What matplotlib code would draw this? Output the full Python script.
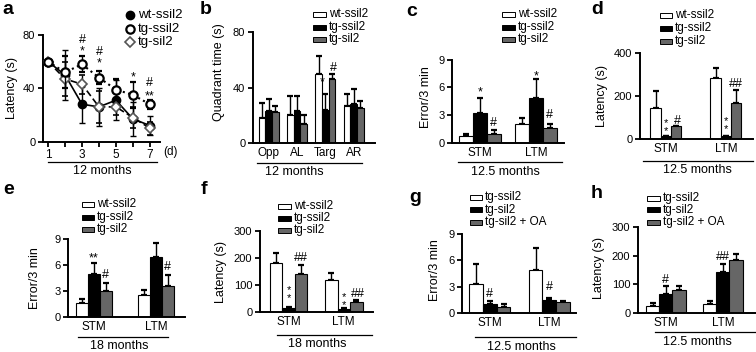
import matplotlib
matplotlib.use('Agg')
import matplotlib.pyplot as plt
import numpy as np
from matplotlib.patches import Rectangle
from matplotlib.lines import Line2D

plt.rcParams['font.family'] = ['Liberation Sans', 'DejaVu Sans']

W, H = 756, 352
GRAY = '#666666'

# ---- panel a: latency over days (12 months)
days = [1, 2, 3, 4, 5, 6, 7]
wt_lat = [60, 50, 28, 26, 31, 17, 12]
wt_err = [1, 19, 14, 14, 15, 13, 7]
tgs_lat = [60, 52, 58, 48, 39, 35, 28]
tgs_err = [1, 12, 6, 5, 8, 10, 3.5]
tgsil_lat = [60, 47, 43, 26, 26, 18, 10]
tgsil_err = [1, 13, 7, 12, 6, 8, 5]

# ---- panel b: quadrant time
quadrants = ['Opp', 'AL', 'Targ', 'AR']
b_wt = [18, 20, 50, 27]
b_wt_err = [11, 14, 13, 8]
b_tgs = [23, 23, 24, 28]
b_tgs_err = [9, 11, 11, 11]
b_tgsil = [22, 14, 46, 25]
b_tgsil_err = [5, 6, 4, 5]

tests = ['STM', 'LTM']
# ---- panel c: errors, 12.5 months
c_wt = [0.72, 2.0]
c_wt_err = [0.28, 0.7]
c_tgs = [3.2, 4.9]
c_tgs_err = [1.7, 2.0]
c_tgsil = [1.0, 1.6]
c_tgsil_err = [0.35, 0.5]

# ---- panel d: latency, 12.5 months
d_wt = [145, 284]
d_wt_err = [78, 46]
d_tgs = [15, 15]
d_tgs_err = [0, 0]
d_tgsil = [62, 167]
d_tgsil_err = [0, 61]

# ---- panel e: errors, 18 months
e_wt = [1.65, 2.5]
e_wt_err = [0.45, 0.6]
e_tgs = [5.0, 6.9]
e_tgs_err = [1.2, 1.6]
e_tgsil = [3.0, 3.6]
e_tgsil_err = [0.9, 1.2]

# ---- panel f: latency, 18 months
f_wt = [180, 118]
f_wt_err = [40, 27]
f_tgs = [15, 11]
f_tgs_err = [5, 4]
f_tgsil = [140, 36]
f_tgsil_err = [35, 9]

# ---- panel g: errors with OA, 12.5 months
g_tgs = [3.35, 4.95]
g_tgs_err = [2.25, 2.45]
g_tgsil = [1.06, 1.44]
g_tgsil_err = [0.27, 0.27]
g_oa = [0.7, 1.22]
g_oa_err = [0.36, 0.15]

# ---- panel h: latency with OA, 12.5 months
h_tgs = [23, 33]
h_tgs_err = [12, 10]
h_tgsil = [67, 142]
h_tgsil_err = [26, 30]
h_oa = [79, 186]
h_oa_err = [16, 21]

legend_wt = ['wt-ssil2', 'tg-ssil2', 'tg-sil2']
legend_oa = ['tg-ssil2', 'tg-sil2', 'tg-sil2 + OA']

fig = plt.figure(figsize=(W / 100, H / 100), dpi=100)


def fx(x):
    return x / W


def fy(y):
    return 1 - y / H


def add_ax(l, t, r, b):
    ax = fig.add_axes([fx(l), fy(b), (r - l) / W, (b - t) / H])
    for s in ['top', 'right']:
        ax.spines[s].set_visible(False)
    for s in ['left', 'bottom']:
        ax.spines[s].set_linewidth(1.4)
    ax.tick_params(direction='out', length=3.5, width=1.3, labelsize=8, pad=2)
    return ax


def ftext(x, y, s, **kw):
    fig.text(fx(x), fy(y), s, **kw)


def group_label(x0, x1, y, tx, ty, s):
    fig.add_artist(Line2D([fx(x0), fx(x1)], [fy(y), fy(y)], color='k', lw=0.9,
                          transform=fig.transFigure))
    ftext(tx, ty, s, ha='center', va='center', fontsize=9)


def mark(ax, x, y, s, fs=9):
    # place glyph so that its visual centre sits at (x, y)
    off = 0.58 * fs if s.startswith('*') else 0.36 * fs
    ax.annotate(s, (x, y), xytext=(0, -off), textcoords='offset points',
                ha='center', va='baseline', fontsize=fs)


def stack_stars(ax, x, y, fs=8):
    # two asterisks one above the other, y = centre of the pair
    ax.annotate('*\n*', (x, y), xytext=(0, -0.3 * fs), textcoords='offset points',
                ha='center', va='center', fontsize=fs, linespacing=0.75)


def bar_legend(x, rows, labels, colors, pw=12, ph=5):
    for y, lab, col in zip(rows, labels, colors):
        fig.add_artist(Rectangle((fx(x), fy(y + ph / 2)), pw / W, ph / H,
                                 facecolor=col, edgecolor='k', lw=0.7,
                                 transform=fig.transFigure))
        ftext(x + pw + 3, y, lab, ha='left', va='center', fontsize=8.5)


def bar_panel(box, xlim, ylim, yticks, w, series, errs, cats):
    ax = add_ax(*box)
    x = np.arange(len(cats))
    cols = ['white', 'black', GRAY]
    for i, (vals, err, col) in enumerate(zip(series, errs, cols)):
        xs = x + (i - 1) * w
        ax.bar(xs, vals, width=w, color=col, edgecolor='k', lw=0.8, zorder=2)
        ax.errorbar(xs, vals, yerr=[np.zeros(len(err)), err], fmt='none',
                    ecolor='k', elinewidth=1.0, capsize=2, capthick=1.6, zorder=1)
    ax.set_xlim(*xlim)
    ax.set_ylim(*ylim)
    ax.set_yticks(yticks)
    ax.set_xticks(x)
    ax.set_xticklabels(cats, fontsize=8.5)
    ax.tick_params(axis='x', length=0, pad=3)
    return ax


# ================= panel a
axa = add_ax(43, 35, 160, 141.5)
axa.errorbar(days, wt_lat, yerr=wt_err, fmt='-o', color='k', mfc='k', ms=6,
             lw=1.2, elinewidth=1.0, capsize=2.5, zorder=3)
axa.errorbar(days, tgsil_lat, yerr=tgsil_err, fmt='--D', color='k', mfc='white',
             mec='#555555', ms=5, mew=1.2, lw=1.2, dashes=(4, 2), elinewidth=1.0,
             capsize=2.5, zorder=4)
axa.errorbar(days, tgs_lat, yerr=tgs_err, fmt=':o', color='k', mfc='white', ms=6,
             mew=1.6, lw=1.5, elinewidth=1.0, capsize=2.5, zorder=5)
axa.set_xlim(0.7, 7.6)
axa.set_ylim(0, 80)
axa.set_yticks([0, 40, 80])
axa.set_xticks(days)
axa.set_xticklabels(['1', '', '3', '', '5', '', '7'], fontsize=8.5)
for d, y, s in [(3, 71, '*'), (3, 77, '#'), (4, 62, '*'), (4, 68, '#'),
                (6, 51, '*'), (7, 37, '**'), (7, 45, '#')]:
    mark(axa, d, y, s)
ftext(171, 152, '(d)', ha='center', va='center', fontsize=8.5)
ftext(12, 88, 'Latency (s)', rotation=90, ha='center', va='center', fontsize=9)
group_label(48, 157, 162, 102, 171, '12 months')
for y, lab, kw in [(15, 'wt-ssil2', dict(marker='o', mfc='k', mec='k', ms=6)),
                   (29, 'tg-ssil2', dict(marker='o', mfc='white', mec='k', ms=6, mew=1.6)),
                   (42, 'tg-sil2', dict(marker='D', mfc='white', mec='#555555', ms=5, mew=1.2))]:
    fig.add_artist(Line2D([fx(130)], [fy(y)], transform=fig.transFigure, ls='none', **kw))
    ftext(138, y, lab, ha='left', va='center', fontsize=9.5)
ftext(8, 10, 'a', ha='center', va='center', fontsize=14, fontweight='bold')

# ================= panel b
axb = bar_panel((253, 32, 375, 143), (-0.55, 3.75), (0, 80), [0, 40, 80], 0.235,
                [b_wt, b_tgs, b_tgsil], [b_wt_err, b_tgs_err, b_tgsil_err], quadrants)
mark(axb, 2 - 0.12, 47, '*')
mark(axb, 2 + 0.27, 55, '#')
ftext(219, 72, 'Quadrant time (s)', rotation=90, ha='center', va='center', fontsize=9)
group_label(257, 362, 163, 294, 172, '12 months')
bar_legend(313, [14, 27, 39], legend_wt, ['white', 'black', GRAY], pw=13)
ftext(206, 10, 'b', ha='center', va='center', fontsize=14, fontweight='bold')

# ================= panel c
axc = bar_panel((452, 59.5, 564, 143), (-0.5, 1.5), (0, 9), [0, 3, 6, 9], 0.245,
                [c_wt, c_tgs, c_tgsil], [c_wt_err, c_tgs_err, c_tgsil_err], tests)
mark(axc, 0, 5.9, '*')
mark(axc, 1, 7.6, '*')
mark(axc, 0.245, 2.35, '#')
mark(axc, 1.245, 3.2, '#')
ftext(426, 97, 'Error/3 min', rotation=90, ha='center', va='center', fontsize=9)
group_label(458, 562, 162, 505, 172, '12.5 months')
bar_legend(502, [14, 27, 39], legend_wt, ['white', 'black', GRAY], pw=13)
ftext(412, 12, 'c', ha='center', va='center', fontsize=14, fontweight='bold')

# ================= panel d
axd = bar_panel((640, 53, 753, 139), (-0.43, 1.45), (0, 400), [0, 200, 400], 0.172,
                [d_wt, d_tgs, d_tgsil], [d_wt_err, d_tgs_err, d_tgsil_err], tests)
stack_stars(axd, 0, 69)
stack_stars(axd, 1, 80)
mark(axd, 0.19, 93, '#')
mark(axd, 1.172, 262, '##')
ftext(602, 96, 'Latency (s)', rotation=90, ha='center', va='center', fontsize=9)
group_label(643, 753, 161, 697, 170, '12.5 months')
bar_legend(660, [15, 28, 41], legend_wt, ['white', 'black', GRAY])
ftext(597, 10, 'd', ha='center', va='center', fontsize=14, fontweight='bold')

# ================= panel e
axe = bar_panel((68, 239, 185, 317), (-0.42, 1.47), (0, 9), [0, 3, 6, 9], 0.19,
                [e_wt, e_tgs, e_tgsil], [e_wt_err, e_tgs_err, e_tgsil_err], tests)
mark(axe, 0, 7.2, '**')
mark(axe, 0.19, 5.0, '#')
mark(axe, 1, 9.5, '**')
mark(axe, 1.19, 6.0, '#')
ftext(35, 278, 'Error/3 min', rotation=90, ha='center', va='center', fontsize=9)
group_label(78, 168, 337, 119, 346, '18 months')
bar_legend(82, [204, 217, 229], legend_wt, ['white', 'black', GRAY])
ftext(9, 189, 'e', ha='center', va='center', fontsize=14, fontweight='bold')

# ================= panel f
axf = bar_panel((260, 231, 373, 312), (-0.52, 1.53), (0, 300), [0, 100, 200, 300], 0.227,
                [f_wt, f_tgs, f_tgsil], [f_wt_err, f_tgs_err, f_tgsil_err], tests)
stack_stars(axf, 0, 78)
stack_stars(axf, 1, 52)
mark(axf, 0.227, 207, '##')
mark(axf, 1.25, 73, '##')
ftext(221, 272, 'Latency (s)', rotation=90, ha='center', va='center', fontsize=9)
group_label(277, 372, 335, 317, 344, '18 months')
bar_legend(278, [206, 218, 230], legend_wt, ['white', 'black', GRAY], pw=13)
ftext(204, 189, 'f', ha='center', va='center', fontsize=14, fontweight='bold')

# ================= panel g
axg = bar_panel((462, 234, 576, 313), (-0.47, 1.45), (0, 9), [0, 3, 6, 9], 0.23,
                [g_tgs, g_tgsil, g_oa], [g_tgs_err, g_tgsil_err, g_oa_err], tests)
mark(axg, 0, 2.3, '#')
mark(axg, 1, 3.1, '#')
ftext(435, 270, 'Error/3 min', rotation=90, ha='center', va='center', fontsize=9)
group_label(475, 576, 337, 521, 347, '12.5 months')
bar_legend(470, [197, 210, 222], legend_oa, ['white', 'black', GRAY])
ftext(415, 197, 'g', ha='center', va='center', fontsize=14, fontweight='bold')

# ================= panel h
axh = bar_panel((638, 227, 756, 313), (-0.49, 1.58), (0, 300), [0, 100, 200, 300], 0.23,
                [h_tgs, h_tgsil, h_oa], [h_tgs_err, h_tgsil_err, h_oa_err], tests)
mark(axh, 0, 122, '#')
mark(axh, 1, 199, '##')
ftext(599, 268, 'Latency (s)', rotation=90, ha='center', va='center', fontsize=9)
group_label(655, 756, 332, 697, 342, '12.5 months')
bar_legend(647, [198, 210, 222], legend_oa, ['white', 'black', GRAY], pw=13)
ftext(597, 194, 'h', ha='center', va='center', fontsize=14, fontweight='bold')

fig.savefig('out.png', dpi=100)
